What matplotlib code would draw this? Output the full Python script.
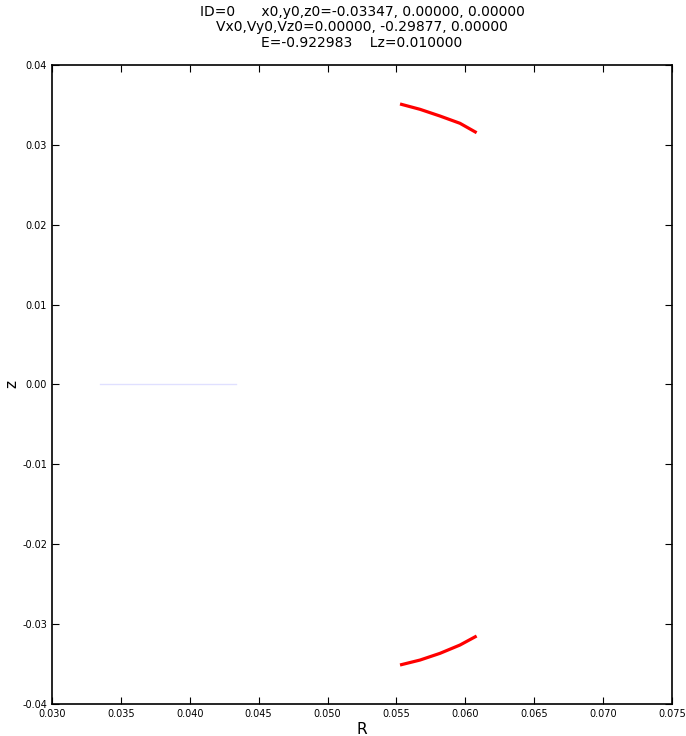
import numpy as np
from matplotlib import pyplot as plt

# orbit pieces
R_upper = [0.05526, 0.05671, 0.05816, 0.05961, 0.06082]
z_upper = [0.03512, 0.03445, 0.03361, 0.03270, 0.03152]
R_lower = [0.05526, 0.05671, 0.05816, 0.05961, 0.06082]
z_lower = [-0.03512, -0.03450, -0.03366, -0.03262, -0.03149]

# faint start segment along z=0
R_start = [0.03347, 0.04335]
z_start = [0.0, 0.0]

title = ("ID=0      x0,y0,z0=-0.03347, 0.00000, 0.00000\n"
         "Vx0,Vy0,Vz0=0.00000, -0.29877, 0.00000\n"
         "E=-0.922983    Lz=0.010000")

fig = plt.figure(figsize=(6.86, 7.36), dpi=100)
ax = fig.add_axes([0.0758, 0.0435, 0.9038, 0.8682])

ax.plot(R_start, z_start, color='blue', alpha=0.12, lw=1)
ax.plot(R_upper, z_upper, color='red', lw=2.3, solid_joinstyle='round', solid_capstyle='butt')
ax.plot(R_lower, z_lower, color='red', lw=2.3, solid_joinstyle='round', solid_capstyle='butt')

ax.set_xlim(0.030, 0.075)
ax.set_ylim(-0.04, 0.04)
ax.set_xticks(np.arange(0.030, 0.0751, 0.005))
ax.set_yticks(np.arange(-0.04, 0.0401, 0.01))
ax.xaxis.set_major_formatter(plt.FormatStrFormatter('%.3f'))
ax.yaxis.set_major_formatter(plt.FormatStrFormatter('%.2f'))
ax.tick_params(direction='in', top=True, right=True, labelsize=7, length=5)
for s in ax.spines.values():
  s.set_linewidth(1.2)

ax.set_xlabel("R", fontsize=11, labelpad=2)
ax.set_ylabel("z", fontsize=11, labelpad=2)
ax.set_title(title, fontsize=10, pad=13, linespacing=1.15)

plt.savefig('out.png', dpi=100)
